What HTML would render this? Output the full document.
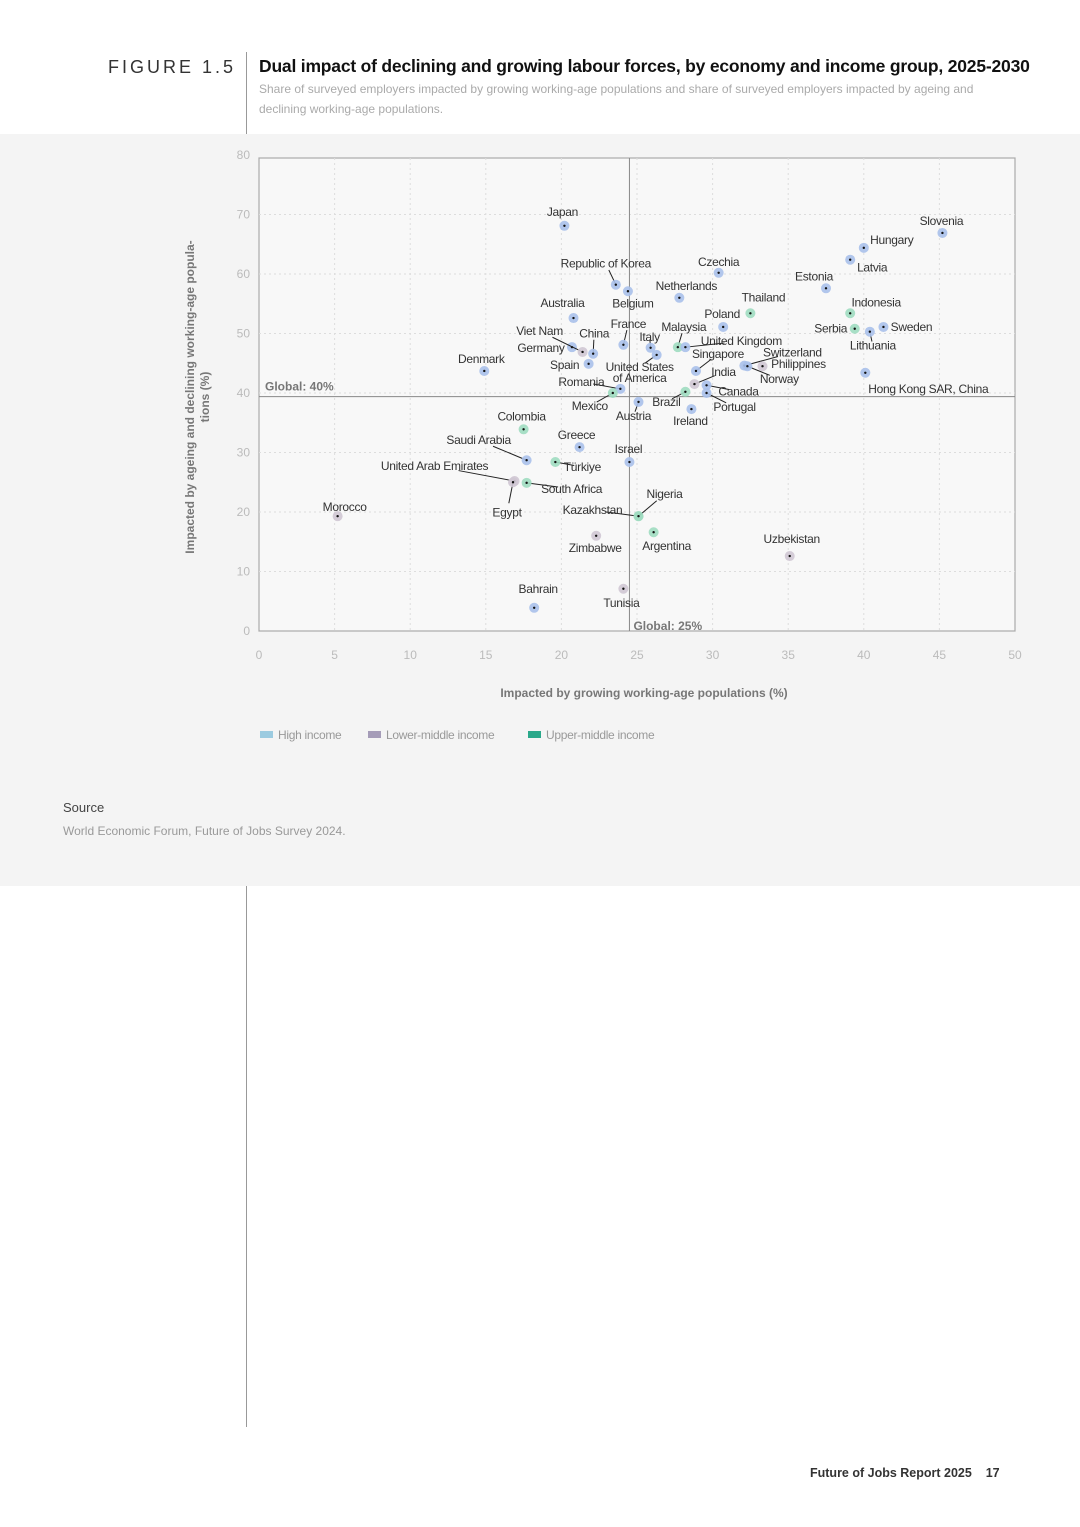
<!DOCTYPE html>
<html><head><meta charset="utf-8">
<style>
body{margin:0;width:1080px;height:1527px;background:#fff;position:relative;font-family:"Liberation Sans",sans-serif;overflow:hidden}
.abs{position:absolute}
</style></head><body>
<div class="abs" style="left:108px;top:57px;font-size:18px;letter-spacing:3px;color:#333">FIGURE 1.5</div>
<div class="abs" style="left:246px;top:52px;width:1px;height:82px;background:#999"></div>
<div class="abs" style="left:259px;top:56px;font-size:17.5px;font-weight:bold;color:#111;letter-spacing:-0.2px">Dual impact of declining and growing labour forces, by economy and income group, 2025-2030</div>
<div class="abs" style="left:259px;top:79px;width:740px;font-size:12px;line-height:20px;color:#aaa;letter-spacing:0px">Share of surveyed employers impacted by growing working-age populations and share of surveyed employers impacted by ageing and declining working-age populations.</div>
<div class="abs" style="left:0;top:134px;width:1080px;height:752px;background:#f4f4f4"></div>
<div class="abs" style="left:246px;top:886px;width:1px;height:541px;background:#999"></div>
<svg class="abs" id="chart" style="left:0;top:0" width="1080" height="900" font-family="Liberation Sans, sans-serif"></svg>
<div class="abs" style="left:63px;top:800px;font-size:13px;color:#444">Source</div>
<div class="abs" style="left:63px;top:824px;font-size:12px;color:#999">World Economic Forum, Future of Jobs Survey 2024.</div>
<div class="abs" style="left:810px;top:1466px;font-size:12.5px;color:#333;font-weight:bold">Future of Jobs Report 2025 &nbsp;&nbsp; 17</div>
<script>
const names=["Japan","Slovenia","Hungary","Latvia","Czechia","Estonia","Republic of Korea","Belgium","Netherlands","Thailand","Indonesia","Australia","Poland","Serbia","Sweden","Lithuania","France","Malaysia","United Kingdom","Germany","Viet Nam","China","Spain","Italy","United States|of America","Singapore","Switzerland","Norway","Philippines","Denmark","India","Canada","Brazil","Portugal","Romania","Mexico","Austria","Ireland","Hong Kong SAR, China","Colombia","Greece","Saudi Arabia","Türkiye","Israel","United Arab Emirates","Egypt","South Africa","Morocco","Kazakhstan","Nigeria","Zimbabwe","Argentina","Uzbekistan","Tunisia","Bahrain"];
const growingX=[20.2,45.2,40.0,39.1,30.4,37.5,23.6,24.4,27.8,32.5,39.1,20.8,30.7,39.4,41.3,40.4,24.1,27.7,28.2,20.7,21.4,22.1,21.8,25.9,26.3,28.9,32.1,32.3,33.3,14.9,28.8,29.6,28.2,29.6,23.9,23.4,25.1,28.6,40.1,17.5,21.2,17.7,19.6,24.5,16.9,16.8,17.7,5.2,25.1,25.1,22.3,26.1,35.1,24.1,18.2];
const ageingY=[68.1,66.9,64.4,62.4,60.2,57.6,58.2,57.1,56.0,53.4,53.4,52.6,51.1,50.8,51.1,50.3,48.1,47.7,47.7,47.7,46.9,46.6,44.9,47.6,46.4,43.7,44.6,44.5,44.5,43.7,41.5,41.3,40.2,40.0,40.7,40.0,38.5,37.3,43.4,33.9,30.9,28.7,28.4,28.4,25.2,25.0,24.9,19.3,19.3,19.3,16.0,16.6,12.6,7.1,3.9];
const groups=["H","H","H","H","H","H","H","H","H","U","U","H","H","U","H","H","H","U","H","H","L","H","H","H","H","H","H","H","L","H","L","H","U","H","H","U","H","H","H","U","H","H","U","H","L","L","U","L","U","U","L","U","L","L","H"];
const xTicks=[0,5,10,15,20,25,30,35,40,45,50];
const yTicks=[0,10,20,30,40,50,60,70,80];
const globalX=24.5, globalY=39.4;
const globalXLabel="25%", globalYLabel="40%";
const lab=[[-2,-14,0],[-1,-12,0],[28,-8,0],[22,8,0],[0,-11,0],[-12,-12,0],[-10,-21,1],[5,12,0],[7,-12,0],[13,-16,0],[26,-11,0],[-11,-15,0],[-1,-13,0],[-24,0,0],[28,0,0],[3,14,1],[5,-21,1],[6,-20,1],[56,-6,1],[-31,1,0],[-43,-21,1],[1,-20,1],[-24,1,0],[-1,-11,1],[-17,12,1],[22,-17,1],[48,-13,1],[32,13,1],[36,-2,0],[-3,-12,0],[29,-12,1],[32,6,1],[-19,10,1],[28,14,1],[-39,-7,1],[-23,13,1],[-5,14,1],[-1,12,0],[63,16,0],[-2,-13,0],[-3,-12,0],[-48,-20,1],[27,5,1],[-1,-13,0],[-80,-15,1],[-6,30,1],[45,6,1],[7,-9,0],[-46,-6,1],[26,-22,1],[-1,12,0],[13,14,0],[2,-17,0],[-2,14,0],[4,-19,0]];
const L=259,R=1015,T=158,B=631;
const sx=v=>L+(v-0)/(50-0)*(R-L);
const sy=v=>B-(v/80)*(B-155);
const svg=document.getElementById('chart');
const NS='http://www.w3.org/2000/svg';
function mk(t,a,p){const e=document.createElementNS(NS,t);for(const k in a)e.setAttribute(k,a[k]);(p||svg).appendChild(e);return e;}
const bg=mk('rect',{x:L,y:T,width:R-L,height:B-T,fill:'#f8f8f8',stroke:'#aaa','stroke-width':1.2});


xTicks.forEach(t=>{
 if(t>0&&t<50){const g=mk('line',{x1:sx(t),x2:sx(t),y1:T,y2:B,stroke:'#ddd','stroke-dasharray':'2,3'});}
 const tx=mk('text',{x:sx(t),y:659,'font-size':12,fill:'#bbb','text-anchor':'middle'});tx.textContent=t;
 
 
});
yTicks.forEach(t=>{
 if(t>0&&t<80){const g=mk('line',{x1:L,x2:R,y1:sy(t),y2:sy(t),stroke:'#ddd','stroke-dasharray':'2,3'});}
 const tx=mk('text',{x:250,y:sy(t)+4,'font-size':12,fill:'#bbb','text-anchor':'end'});tx.textContent=t;
 
 
});
const gx=mk('line',{x1:sx(globalX),x2:sx(globalX),y1:T,y2:B,stroke:'#888','stroke-width':1});


const gy=mk('line',{x1:L,x2:R,y1:sy(globalY),y2:sy(globalY),stroke:'#888','stroke-width':1});


let t1=mk('text',{x:265,y:sy(globalY)-6,'font-size':12,'font-weight':'bold',fill:'#777'});t1.textContent='Global: '+globalYLabel;


let t2=mk('text',{x:sx(globalX)+4,y:630,'font-size':12,'font-weight':'bold',fill:'#777'});t2.textContent='Global: '+globalXLabel;


const halo={H:'#a9c0ea',U:'#9edcc0',L:'#cfc6d3'};
names.forEach((n,i)=>{
 const px=sx(growingX[i]),py=sy(ageingY[i]);
 const o=lab[i];
 if(o[2]){const ln=mk('line',{x1:px,y1:py,x2:px+o[0]*0.7,y2:py+o[1]*0.7,stroke:'#222','stroke-width':1});}
 const c=mk('circle',{cx:px,cy:py,r:5,fill:halo[groups[i]],opacity:0.9});
 
 
 mk('circle',{cx:px,cy:py,r:1.2,fill:'#111'});
 const parts=n.split('|');
 parts.forEach((p,k)=>{
  const tx=mk('text',{x:px+o[0],y:py+o[1]+4+k*11,'font-size':12,fill:'#333','text-anchor':'middle','letter-spacing':'-0.3'});
  tx.textContent=p;
  
  
 });
});
let xt=mk('text',{x:644,y:697,'font-size':12,'font-weight':'bold',fill:'#777','text-anchor':'middle'});xt.textContent='Impacted by growing working-age populations (%)';


let yt=mk('text',{'font-size':12,'font-weight':'bold',fill:'#777','text-anchor':'middle',transform:'translate(194,397) rotate(-90)'});
yt.textContent='Impacted by ageing and declining working-age popula-';


let yt2=mk('text',{'font-size':12,'font-weight':'bold',fill:'#777','text-anchor':'middle',transform:'translate(209,397) rotate(-90)'});
yt2.textContent='tions (%)';


const leg=[["High income","#9ccbe0",260],["Lower-middle income","#a59cb8",368],["Upper-middle income","#2aa88a",528]];
leg.forEach(l=>{
 const r=mk('rect',{x:l[2],y:731,width:13,height:7,fill:l[1]});
 
 
 const tx=mk('text',{x:l[2]+18,y:739,'font-size':12,fill:'#999','letter-spacing':'-0.3'});tx.textContent=l[0];
 
 
});
</script>
</body></html>
